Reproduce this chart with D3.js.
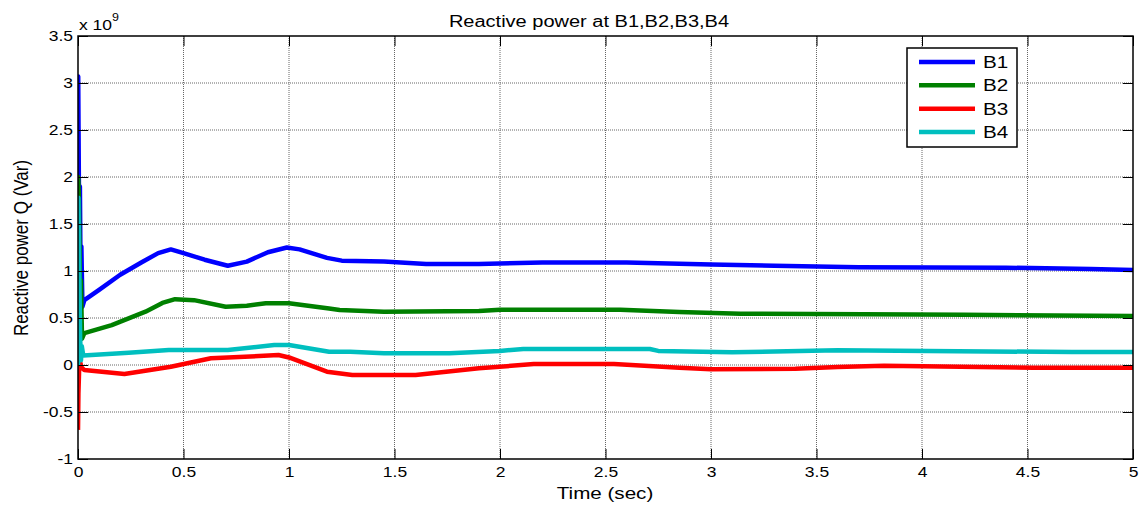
<!DOCTYPE html>
<html>
<head>
<meta charset="utf-8">
<title>Reactive power at B1,B2,B3,B4</title>
<script src="https://d3js.org/d3.v7.min.js"></script>
<style>
	body {margin:0; background:#fff;}
	text {font-family:"Liberation Sans", Arial, sans-serif; fill:#000;}
</style>
</head>
<body>
<div id="chart"></div>
<script>
// time (sec), Q in units of 1e9 Var
var b1 = [[0,0],[0.001,3.07],[0.004,2.0],[0.006,1.5],[0.009,1.9],[0.012,1.0],[0.016,1.26],[0.021,0.62],[0.03,0.69],
	[0.1,0.8],[0.2,0.96],[0.3,1.09],[0.38,1.19],[0.44,1.23],[0.5,1.19],[0.6,1.12],[0.71,1.056],[0.8,1.1],[0.9,1.2],
	[0.99,1.25],[1.05,1.23],[1.18,1.14],[1.25,1.11],[1.45,1.10],[1.65,1.075],[1.9,1.075],[2.2,1.09],[2.6,1.09],
	[3.0,1.07],[3.3,1.056],[3.7,1.04],[4.4,1.035],[4.8,1.02],[5,1.01]];
var b2 = [[0,0],[0.001,2.0],[0.004,1.8],[0.008,1.1],[0.011,0.5],[0.014,0.9],[0.019,0.28],[0.03,0.34],[0.16,0.425],
	[0.32,0.567],[0.4,0.66],[0.46,0.70],[0.55,0.69],[0.7,0.62],[0.8,0.63],[0.89,0.656],[1.0,0.656],[1.19,0.60],
	[1.24,0.585],[1.45,0.567],[1.9,0.574],[2.0,0.588],[2.57,0.588],[2.85,0.564],[3.14,0.546],[4.2,0.535],[5,0.52]];
var b3 = [[0,-0.69],[0.002,-0.3],[0.006,0.0],[0.01,0.03],[0.018,-0.03],[0.03,-0.053],[0.22,-0.096],[0.44,-0.018],
	[0.63,0.071],[0.95,0.106],[1.0,0.08],[1.18,-0.071],[1.3,-0.106],[1.6,-0.106],[1.9,-0.035],[2.16,0.01],[2.54,0.01],
	[2.85,-0.028],[3.0,-0.046],[3.4,-0.04],[3.6,-0.02],[3.82,-0.007],[4.53,-0.028],[5,-0.03]];
var b4 = [[0,0],[0.002,1.78],[0.006,1.0],[0.01,0.3],[0.014,0.05],[0.018,0.2],[0.025,0.1],[0.24,0.13],[0.43,0.16],
	[0.71,0.16],[0.93,0.213],[1.0,0.213],[1.19,0.14],[1.29,0.14],[1.45,0.124],[1.76,0.124],[2.0,0.15],[2.11,0.17],
	[2.71,0.17],[2.75,0.15],[3.1,0.135],[3.6,0.156],[4.71,0.138],[5,0.138]];

var names = ["B1","B2","B3","B4"];
var colors = ["#0000ff","#008000","#ff0000","#00bfbf"];
var xTicks = [0,0.5,1,1.5,2,2.5,3,3.5,4,4.5,5];
var yTicks = [-1,-0.5,0,0.5,1,1.5,2,2.5,3,3.5];

var W = 1142, H = 505;
var pl = 78, pr = 1133, pt = 36, pb = 459;
var sx = 1.25;   // the original picture is stretched sideways

var svg = d3.select("#chart").append("svg")
	.attr("width", W)
	.attr("height", H);

var x = d3.scaleLinear().domain([0,5]).range([pl,pr]);
var y = d3.scaleLinear().domain([-1,3.5]).range([pb,pt]);

// grid
svg.append("g").selectAll("line").data(xTicks.slice(1,-1)).enter()
	.append("line")
	.attr("x1", d => x(d)).attr("x2", d => x(d))
	.attr("y1", pt).attr("y2", pb)
	.attr("stroke","#666").attr("stroke-width",1).attr("stroke-dasharray","1,1");
svg.append("g").selectAll("line").data(yTicks.slice(1,-1)).enter()
	.append("line")
	.attr("y1", d => y(d)).attr("y2", d => y(d))
	.attr("x1", pl).attr("x2", pr)
	.attr("stroke","#666").attr("stroke-width",1).attr("stroke-dasharray","1,1");

svg.append("clipPath").attr("id","clip").append("rect")
	.attr("x",pl).attr("y",pt).attr("width",pr-pl).attr("height",pb-pt);

// series
var line = d3.line().x(d => x(d[0])).y(d => y(d[1]));
var series = [b1,b2,b3,b4];
svg.append("g").attr("clip-path","url(#clip)").selectAll("path").data(series).enter()
	.append("path")
	.attr("d", line)
	.attr("fill","none")
	.attr("stroke", (d,i) => colors[i])
	.attr("stroke-width",4.5)
	.attr("stroke-linejoin","round");

// axes, ticks inside
var tl = 10;
var fmt = d => String(d);
svg.append("g").attr("transform","translate(0,"+pb+")")
	.call(d3.axisBottom(x).tickValues(xTicks).tickSize(-tl).tickPadding(8).tickFormat(fmt))
	.call(g => g.select(".domain").remove())
	.call(g => g.selectAll("text").attr("font-size",14).attr("transform","scale("+sx+",1)"));
svg.append("g").attr("transform","translate(0,"+pt+")")
	.call(d3.axisTop(x).tickValues(xTicks).tickSize(-tl).tickFormat(""))
	.call(g => g.select(".domain").remove());
svg.append("g").attr("transform","translate("+pl+",0)")
	.call(d3.axisLeft(y).tickValues(yTicks).tickSize(-tl).tickFormat(fmt))
	.call(g => g.select(".domain").remove())
	.call(g => g.selectAll("text").attr("font-size",14).attr("x",-5/sx).attr("transform","scale("+sx+",1)"));
svg.append("g").attr("transform","translate("+pr+",0)")
	.call(d3.axisRight(y).tickValues(yTicks).tickSize(-tl).tickFormat(""))
	.call(g => g.select(".domain").remove());

svg.append("rect")
	.attr("x",pl).attr("y",pt).attr("width",pr-pl).attr("height",pb-pt)
	.attr("fill","none").attr("stroke","#000").attr("stroke-width",1.5);

// texts
function label(px, py, size, anchor, str) {
	return svg.append("g").attr("transform","translate("+px+","+py+") scale("+sx+",1)")
		.append("text").attr("text-anchor",anchor).attr("font-size",size).text(str);
}
label(589, 27, 16, "middle", "Reactive power at B1,B2,B3,B4");
label(605, 499, 16.5, "middle", "Time (sec)");
svg.append("text").attr("transform","translate(28,248) rotate(-90) scale(1,1.2)").attr("text-anchor","middle")
	.attr("font-size",17).text("Reactive power Q (Var)");
var mult = label(79, 30, 14, "start", "x 10");
mult.append("tspan").attr("dy",-9).attr("font-size",10).text("9");

// legend
var lg = svg.append("g");
lg.append("rect").attr("x",907).attr("y",48).attr("width",110).attr("height",99)
	.attr("fill","#fff").attr("stroke","#000").attr("stroke-width",1.5);
var ly = d3.scaleLinear().domain([0,3]).range([62,132]);
names.forEach(function(n,i){
	lg.append("line").attr("x1",919).attr("x2",975).attr("y1",ly(i)).attr("y2",ly(i))
		.attr("stroke",colors[i]).attr("stroke-width",4.5);
	label(983, ly(i)+6, 16.5, "start", n);
});
</script>
</body>
</html>
